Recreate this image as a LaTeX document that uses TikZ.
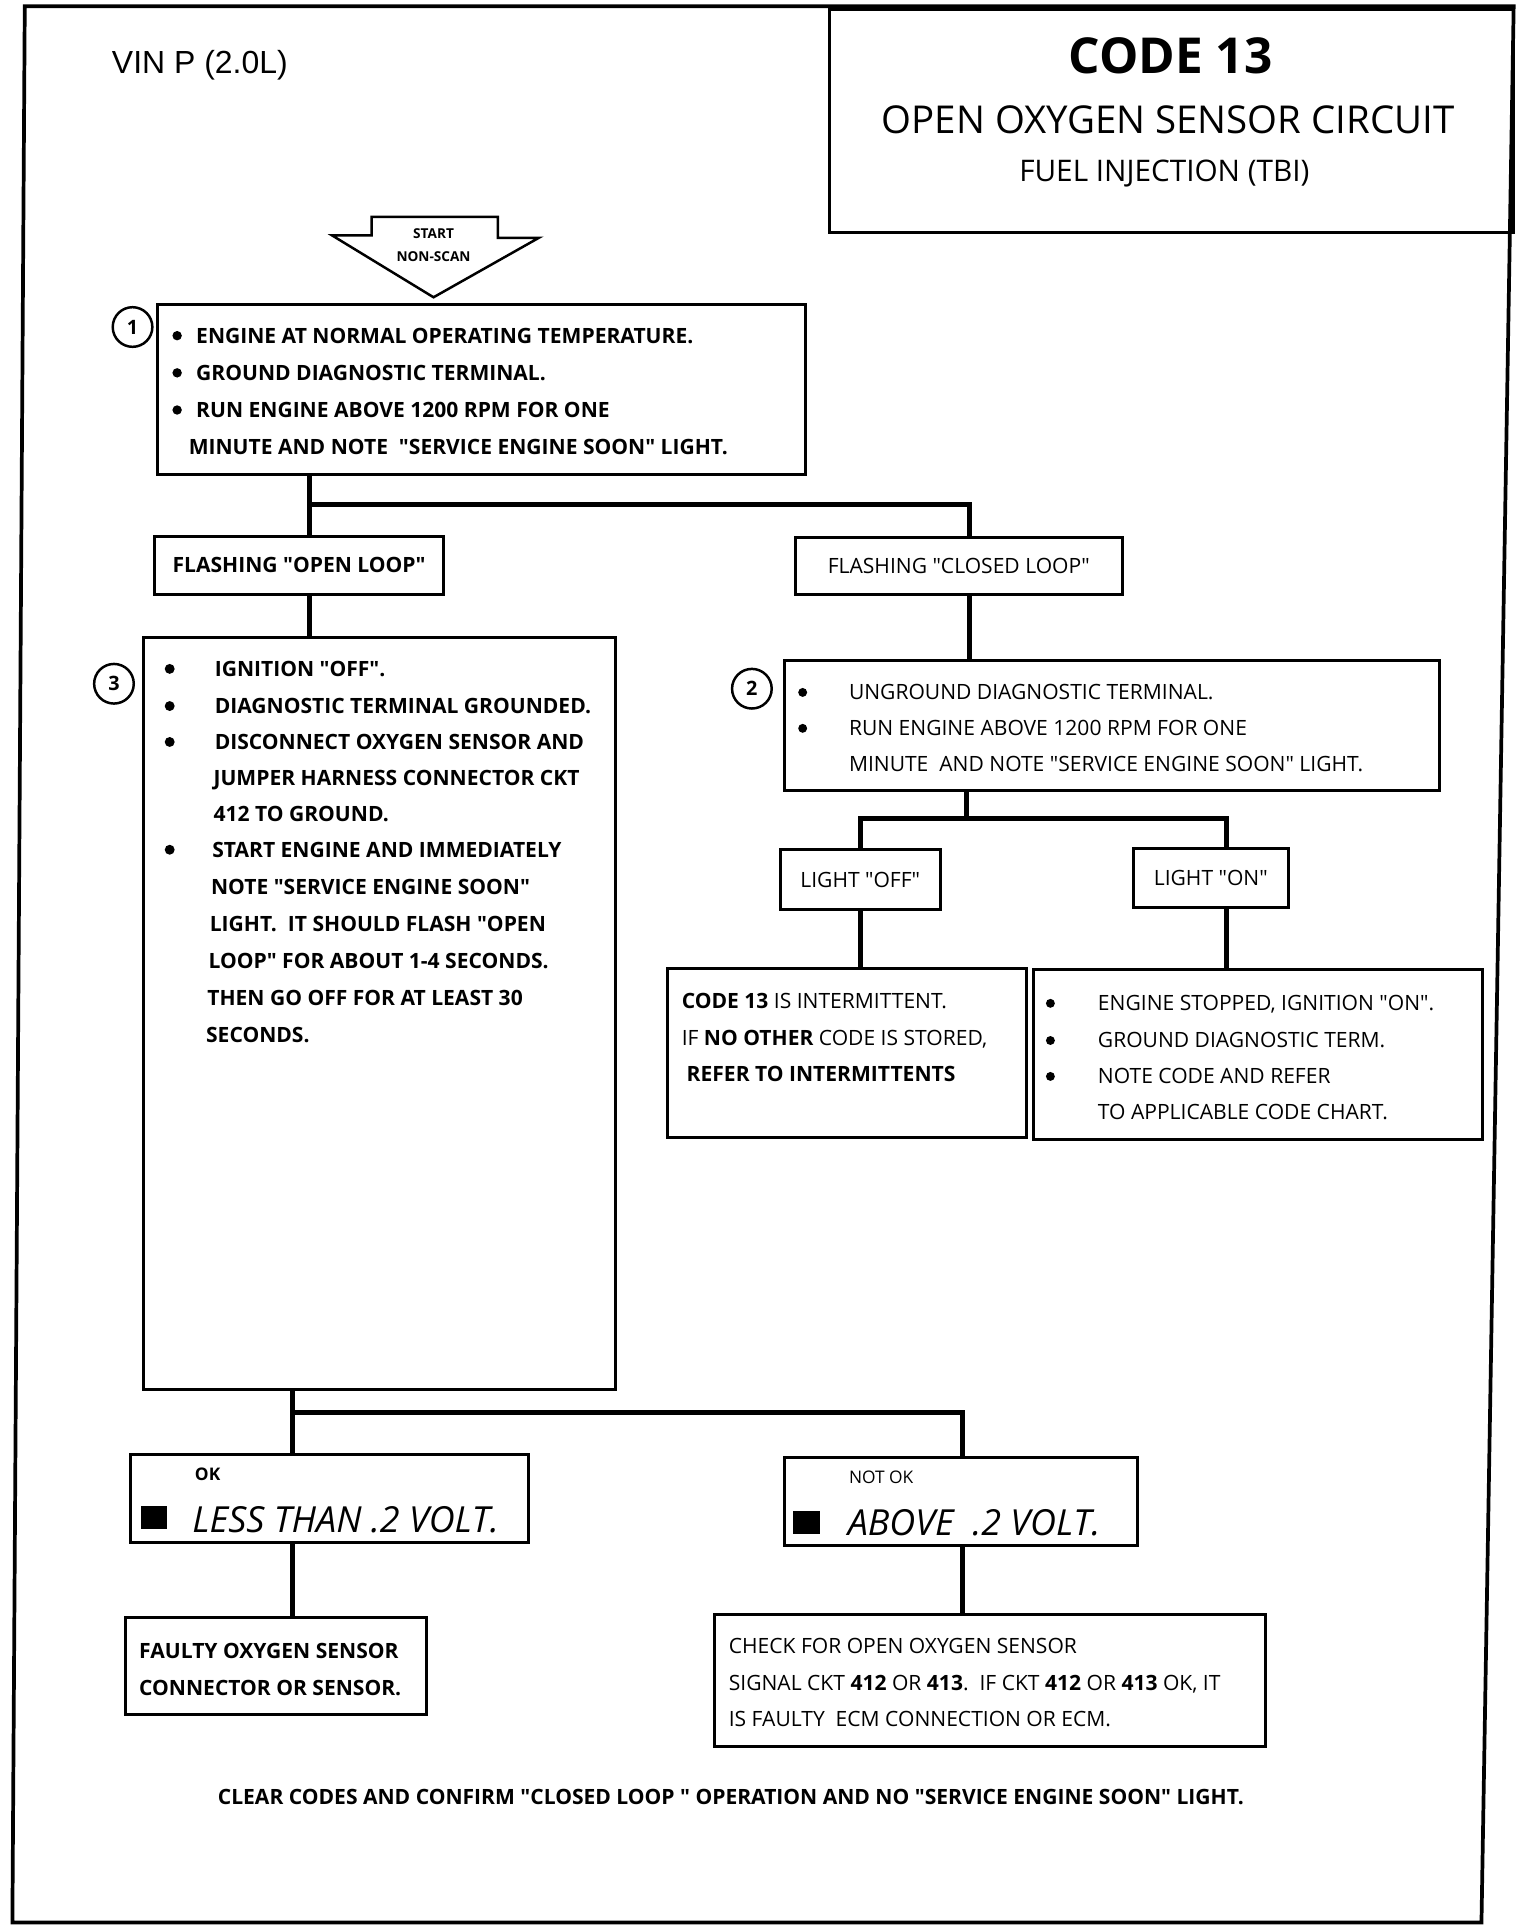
\documentclass[tikz,border=0pt]{standalone}
\usepackage{fontspec}
\setmainfont{Open Sans}[Ligatures=TeXOff]
\newfontfamily\vinfont{Liberation Sans}
\usetikzlibrary{fit}

\tikzset{
  box/.style={draw, line width=1.2pt, inner sep=0pt},
  wire/.style={line width=2pt},
  txt/.style={inner sep=0pt, anchor=base west, font=\fontsize{8.5}{10}\selectfont\bfseries},
  rtxt/.style={inner sep=0pt, anchor=base west, font=\fontsize{8.5}{10}\selectfont},
  stepnum/.style={draw, circle, line width=1pt, minimum size=16pt, inner sep=0pt, font=\fontsize{8}{10}\selectfont\bfseries}
}

\begin{document}
\begin{tikzpicture}[x=0.5pt, y=-0.5pt]

  \useasboundingbox (0,0) rectangle (1240,1556.5);

  % page frame and title
  \draw[line width=1.5pt] (20,5) -- (1222,5) -- (1196,1552) -- (10,1552) -- cycle;
  \node[box, fit={(670,8) (1222,188)}] (title) {};
  \node[font=\fontsize{20}{24}\selectfont\bfseries] (code) at (945,45) {CODE 13};
  \node[font=\fontsize{15.5}{18}\selectfont] (circ) at (943,97) {OPEN OXYGEN SENSOR CIRCUIT};
  \node[font=\fontsize{12}{14}\selectfont] (fuel) at (940,140) {FUEL INJECTION (TBI)};
  \node[anchor=west, inner sep=0pt, font=\vinfont\fontsize{12.9}{14}\selectfont] (vin) at (90,53) {VIN P (2.0L)};

  % start arrow
  \draw[line width=1pt] (300,175) -- (402,175) -- (402,192) -- (435,192) -- (350,240)
    -- (268,190) -- (300,190) -- cycle;
  \node[align=center, inner sep=0pt, font=\fontsize{5.5}{9.5}\selectfont\bfseries] (start) at (350,198) {START\\NON-SCAN};

  % boxes
  \node[box, fit={(127,246) (650,383)}] (s1) {};
  \node[box, fit={(125,433) (358,480)}] (ol) {};
  \node[box, fit={(642,434) (906,480)}] (cl) {};
  \node[box, fit={(116,515) (497,1122)}] (s3) {};
  \node[box, fit={(633,533) (1162,638)}] (s2) {};
  \node[box, fit={(630,686) (759,734)}] (loff) {};
  \node[box, fit={(915,685) (1040,733)}] (lon) {};
  \node[box, fit={(539,782) (829,918)}] (inter) {};
  \node[box, fit={(834,783) (1197,920)}] (eng) {};
  \node[box, fit={(105,1174) (427,1245)}] (ok) {};
  \node[box, fit={(633,1177) (918,1248)}] (nok) {};
  \node[box, fit={(101,1306) (344,1384)}] (faulty) {};
  \node[box, fit={(577,1303) (1022,1410)}] (check) {};

  \node[stepnum] (c1) at (107,264) {1};
  \node[stepnum] (c2) at (607,556) {2};
  \node[stepnum] (c3) at (92,552) {3};

  % connectors
  \coordinate (j1) at (250,407);
  \coordinate (j1r) at (783,407);
  \draw[wire] (s1.south -| j1) -- (ol.north -| j1);
  \draw[wire] (j1) -- (j1r) -- (cl.north -| j1r);
  \draw[wire] (ol.south -| j1) -- (s3.north -| j1);
  \draw[wire] (cl.south -| j1r) -- (s2.north -| j1r);

  \coordinate (j2) at (695,661);
  \coordinate (j2r) at (990,661);
  \coordinate (j2m) at (780,661);
  \draw[wire] (s2.south -| j2m) -- (j2m);
  \draw[wire] (loff.north -| j2) -- (j2) -- (j2r) -- (lon.north -| j2r);
  \draw[wire] (loff.south -| j2) -- (inter.north -| j2);
  \draw[wire] (lon.south -| j2r) -- (eng.north -| j2r);

  \coordinate (j3) at (236,1140);
  \coordinate (j3r) at (777,1140);
  \draw[wire] (s3.south -| j3) -- (ok.north -| j3);
  \draw[wire] (j3) -- (j3r) -- (nok.north -| j3r);
  \draw[wire] (ok.south -| j3) -- (faulty.north -| j3);
  \draw[wire] (nok.south -| j3r) -- (check.north -| j3r);

  % step 1
  \foreach \y in {271,301,331} \fill (143,\y) circle (1.9pt);
  \node[txt] at (158,277) {ENGINE AT NORMAL OPERATING TEMPERATURE.};
  \node[txt] at (158,307) {GROUND DIAGNOSTIC TERMINAL.};
  \node[txt] at (158,337) {RUN ENGINE ABOVE 1200 RPM FOR ONE};
  \node[txt] at (152,367) {MINUTE AND NOTE \ "SERVICE ENGINE SOON" LIGHT.};

  \node[txt, anchor=center] at (ol.center) {FLASHING "OPEN LOOP"};
  \node[rtxt, anchor=center] at (cl.center) {FLASHING "CLOSED LOOP"};

  % step 3
  \foreach \y in {540,570,599,686} \fill (137,\y) circle (2pt);
  \node[txt] at (173,546) {IGNITION "OFF".};
  \node[txt] at (173,576) {DIAGNOSTIC TERMINAL GROUNDED.};
  \node[txt] at (173,605) {DISCONNECT OXYGEN SENSOR AND};
  \node[txt] at (172,634) {JUMPER HARNESS CONNECTOR CKT};
  \node[txt] at (172,663) {412 TO GROUND.};
  \node[txt] at (171,692) {START ENGINE AND IMMEDIATELY};
  \node[txt] at (170,722) {NOTE "SERVICE ENGINE SOON"};
  \node[txt] at (169,752) {LIGHT.\ \ IT SHOULD FLASH "OPEN};
  \node[txt] at (168,782) {LOOP" FOR ABOUT 1-4 SECONDS.};
  \node[txt] at (167,812) {THEN GO OFF FOR AT LEAST 30};
  \node[txt] at (166,842) {SECONDS.};

  % step 2
  \foreach \y in {559,588} \fill (648,\y) circle (1.8pt);
  \node[rtxt] at (685,565) {UNGROUND DIAGNOSTIC TERMINAL.};
  \node[rtxt] at (685,594) {RUN ENGINE ABOVE 1200 RPM FOR ONE};
  \node[rtxt] at (685,623) {MINUTE\ \ AND NOTE "SERVICE ENGINE SOON" LIGHT.};

  \node[rtxt, anchor=center] at (loff.center) {LIGHT "OFF"};
  \node[rtxt, anchor=center] at (lon.center) {LIGHT "ON"};

  \node[rtxt] at (550,814) {\textbf{CODE 13} IS INTERMITTENT.};
  \node[rtxt] at (550,844) {IF \textbf{NO OTHER} CODE IS STORED,};
  \node[txt] at (554,873) {REFER TO INTERMITTENTS};

  \foreach \y in {810,840,869} \fill (848,\y) circle (1.8pt);
  \node[rtxt] at (886,816) {ENGINE STOPPED, IGNITION "ON".};
  \node[rtxt] at (886,846) {GROUND DIAGNOSTIC TERM.};
  \node[rtxt] at (886,875) {NOTE CODE AND REFER};
  \node[rtxt] at (886,904) {TO APPLICABLE CODE CHART.};

  % voltage results
  \node[txt, font=\fontsize{7}{8}\selectfont\bfseries] at (157,1195) {OK};
  \fill (114,1216) rectangle (135,1234);
  \node[rtxt, font=\fontsize{14.5}{16}\selectfont\itshape] at (155,1237) {LESS THAN .2 VOLT.};
  \node[rtxt, font=\fontsize{7}{8}\selectfont] at (685,1198) {NOT OK};
  \fill (640,1220) rectangle (662,1238);
  \node[rtxt, font=\fontsize{14.5}{16}\selectfont\itshape] at (684,1240) {ABOVE\ \ .2 VOLT.};

  \node[txt] at (112,1339) {FAULTY OXYGEN SENSOR};
  \node[txt] at (112,1369) {CONNECTOR OR SENSOR.};

  \node[rtxt] at (588,1335) {CHECK FOR OPEN OXYGEN SENSOR};
  \node[rtxt] at (588,1365) {SIGNAL CKT \textbf{412} OR \textbf{413}.\ \ IF CKT \textbf{412} OR \textbf{413} OK, IT};
  \node[rtxt] at (588,1394) {IS FAULTY\ \ ECM CONNECTION OR ECM.};

  \node[txt, anchor=center] (clear) at (590,1451) {CLEAR CODES AND CONFIRM "CLOSED LOOP " OPERATION AND NO "SERVICE ENGINE SOON" LIGHT.};

\end{tikzpicture}
\end{document}
